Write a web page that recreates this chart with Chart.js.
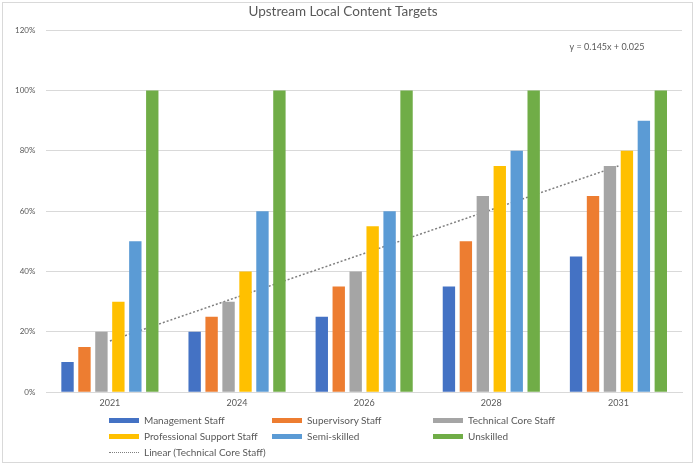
<!DOCTYPE html>
<html lang="en">
<head>
    <meta charset="UTF-8">
    <title>Upstream Local Content Targets</title>
    <style>
        body {
            margin: 0;
            padding: 0;
            background: #fff;
            font-family: Lato, "Open Sans", sans-serif;
        }
        .frame {
            position: absolute;
            left: 2px;
            top: 2px;
            width: 689px;
            height: 459px;
            border: 1px solid #d9d9d9;
        }
        #chart {
            position: absolute;
            left: 0;
            top: 0;
        }
        #legend {
            position: absolute;
            left: 109px;
            top: 412px;
            display: grid;
            grid-template-columns: 163px 161px 200px;
            grid-auto-rows: 16px;
            font-size: 10px;
            color: #595959;
        }
        #legend .item {
            display: flex;
            align-items: center;
            white-space: nowrap;
        }
        #legend .swatch {
            width: 30px;
            height: 5px;
            margin-right: 5px;
        }
        #legend .dots {
            width: 30px;
            height: 0;
            border-top: 1.5px dotted #7f7f7f;
            margin-right: 5px;
        }
    </style>
    <script src="https://cdn.jsdelivr.net/npm/chart.js"></script>
</head>
<body>
    <div class="frame"></div>
    <canvas id="chart" width="696" height="418"></canvas>
    <div id="legend"></div>
    <script>
        const years = ['2021', '2024', '2026', '2028', '2031'];
        const seriesNames = ['Management Staff', 'Supervisory Staff', 'Technical Core Staff',
                             'Professional Support Staff', 'Semi-skilled', 'Unskilled'];
        const management = [10, 20, 25, 35, 45];
        const supervisory = [15, 25, 35, 50, 65];
        const technicalCore = [20, 30, 40, 65, 75];
        const professionalSupport = [30, 40, 55, 75, 80];
        const semiSkilled = [50, 60, 60, 80, 90];
        const unskilled = [100, 100, 100, 100, 100];
        // linear trend of technical core staff, as printed on the chart: y = 0.145x + 0.025
        const trendLabel = 'Linear (Technical Core Staff)';
        const trendValues = [17, 31.5, 46, 60.5, 75];
        const equationText = 'y = 0.145x + 0.025';
        const yTicks = [0, 20, 40, 60, 80, 100, 120];

        const colors = ['#4472C4', '#ED7D31', '#A5A5A5', '#FFC000', '#5B9BD5', '#70AD47'];
        const allSeries = [management, supervisory, technicalCore, professionalSupport, semiSkilled, unskilled];

        const datasets = allSeries.map((values, i) => ({
            type: 'bar',
            label: seriesNames[i],
            data: values,
            backgroundColor: colors[i],
            categoryPercentage: 0.8,
            barPercentage: 0.73,
            order: 1
        }));
        datasets.push({
            type: 'line',
            label: trendLabel,
            data: trendValues,
            borderColor: '#7f7f7f',
            borderWidth: 1.5,
            borderDash: [2, 2],
            pointRadius: 0,
            fill: false,
            order: 10
        });

        const equationPlugin = {
            id: 'equation',
            afterDraw(chart) {
                const ctx = chart.ctx;
                const area = chart.chartArea;
                ctx.save();
                ctx.font = '9px Lato, "Open Sans", sans-serif';
                ctx.fillStyle = '#595959';
                ctx.textAlign = 'center';
                ctx.textBaseline = 'middle';
                ctx.fillText(equationText, area.right - 75, area.top + 17);
                ctx.restore();
            }
        };

        new Chart(document.getElementById('chart').getContext('2d'), {
            data: { labels: years, datasets: datasets },
            options: {
                responsive: false,
                animation: false,
                devicePixelRatio: 1,
                layout: { padding: { top: 4, right: 14, left: 4, bottom: 5 } },
                plugins: {
                    legend: { display: false },
                    tooltip: { enabled: false },
                    title: {
                        display: true,
                        text: 'Upstream Local Content Targets',
                        color: '#595959',
                        font: { family: 'Lato', size: 13.5, weight: 'normal' },
                        padding: { top: 0, bottom: 10 }
                    }
                },
                scales: {
                    x: {
                        grid: { display: false, drawTicks: false },
                        border: { color: '#d9d9d9' },
                        ticks: { color: '#595959', font: { family: 'Lato', size: 9 }, padding: 5 }
                    },
                    y: {
                        min: 0,
                        max: 120,
                        afterBuildTicks: axis => { axis.ticks = yTicks.map(v => ({ value: v })); },
                        grid: { color: '#d9d9d9', drawTicks: false },
                        border: { display: false },
                        ticks: {
                            color: '#595959',
                            font: { family: 'Lato', size: 8 },
                            padding: 11,
                            callback: v => v + '%'
                        }
                    }
                }
            },
            plugins: [equationPlugin]
        });

        // legend in three columns like the original
        const legend = document.getElementById('legend');
        seriesNames.forEach((name, i) => {
            const item = document.createElement('div');
            item.className = 'item';
            item.innerHTML = '<span class="swatch" style="background:' + colors[i] + '"></span>' + name;
            legend.appendChild(item);
        });
        const trendItem = document.createElement('div');
        trendItem.className = 'item';
        trendItem.innerHTML = '<span class="dots"></span>' + trendLabel;
        legend.appendChild(trendItem);
    </script>
</body>
</html>
